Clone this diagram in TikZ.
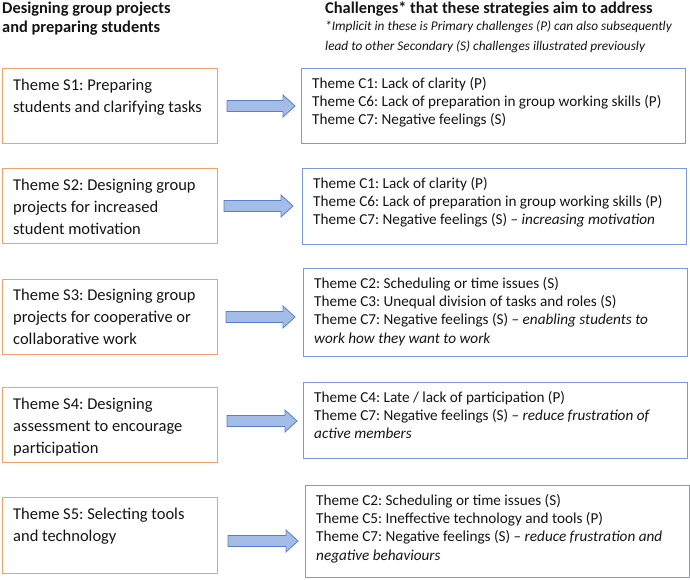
\documentclass[tikz,border=0pt]{standalone}
\usepackage{fontspec}
\setmainfont{Carlito}
\usetikzlibrary{calc}
\definecolor{obord}{RGB}{242,162,104}
\definecolor{bbord}{RGB}{122,155,216}
\definecolor{afill}{RGB}{164,189,232}
\definecolor{aline}{RGB}{91,127,199}
\definecolor{txt}{RGB}{20,20,20}
\tikzset{
  lbox/.style={draw=obord, line width=1.1pt, minimum width=215pt, minimum height=75pt, anchor=north west, inner sep=0pt},
  rbox/.style={draw=bbord, line width=1.1pt, minimum width=384pt, anchor=north west, inner sep=0pt},
  ltxt/.style={anchor=north west, inner sep=0pt, align=left, text=txt, font=\fontsize{16.5}{21.7}\selectfont},
  rtxt/.style={anchor=north west, inner sep=0pt, align=left, text=txt, font=\fontsize{15.2}{18.3}\selectfont},
  head/.style={anchor=north west, inner sep=0pt, align=left, text=txt, font=\bfseries\fontsize{16.4}{19}\selectfont},
  note/.style={anchor=north west, inner sep=0pt, align=left, text=txt, font=\itshape\fontsize{13.3}{20}\selectfont},
  blockarrow/.style={fill=afill, draw=aline, line width=0.8pt, line join=miter}
}
\newcommand\blkarrow[2]{\filldraw[blockarrow] ($(#1)+(0,-5.5)$) -- ($(#2)+(-12,-5.5)$) -- ($(#2)+(-12,-11)$) -- (#2) -- ($(#2)+(-12,11)$) -- ($(#2)+(-12,5.5)$) -- ($(#1)+(0,5.5)$) -- cycle;}
\begin{document}
\frenchspacing
\begin{tikzpicture}[x=1pt,y=-1pt]
\useasboundingbox (0,0) rectangle (690,579);
% headings
\node[head] (hl) at (2,2) {Designing group projects\\and preparing students};
\node[head] (hr) at (325,2) {Challenges* that these strategies aim to address};
\node[note] (hn) at (325,21) {*Implicit in these is Primary challenges (P) can also subsequently\\lead to other Secondary (S) challenges illustrated previously};
% left boxes
\node[lbox] (s1) at (2,68) {};
\node[lbox] (s2) at (2,168) {};
\node[lbox] (s3) at (2,279) {};
\node[lbox] (s4) at (2,387) {};
\node[lbox, minimum height=76pt] (s5) at (2,497) {};
\node[ltxt] (s1t) at ($(s1.north west)+(11,11)$) {Theme S1: Preparing\\students and clarifying tasks};
\node[ltxt] (s2t) at ($(s2.north west)+(11,11)$) {Theme S2: Designing group\\projects for increased\\student motivation};
\node[ltxt] (s3t) at ($(s3.north west)+(11,10)$) {Theme S3: Designing group\\projects for cooperative or\\collaborative work};
\node[ltxt] (s4t) at ($(s4.north west)+(11,11)$) {Theme S4: Designing\\assessment to encourage\\participation};
\node[ltxt] (s5t) at ($(s5.north west)+(11,11)$) {Theme S5: Selecting tools\\and technology};
% right boxes
\node[rbox, minimum height=75pt] (c1) at (301,68) {};
\node[rbox, minimum height=76pt] (c2) at (302,168) {};
\node[rbox, minimum height=88pt] (c3) at (303,268) {};
\node[rbox, minimum height=76pt] (c4) at (303,382) {};
\node[rbox, minimum height=92pt] (c5) at (305,485) {};
\node[rtxt] (c1t) at ($(c1.north west)+(11,9)$) {Theme C1: Lack of clarity (P)\\Theme C6: Lack of preparation in group working skills (P)\\Theme C7: Negative feelings (S)};
\node[rtxt] (c2t) at ($(c2.north west)+(11,9)$) {Theme C1: Lack of clarity (P)\\Theme C6: Lack of preparation in group working skills (P)\\Theme C7: Negative feelings (S) -- \textit{increasing motivation}};
\node[rtxt] (c3t) at ($(c3.north west)+(11,9)$) {Theme C2: Scheduling or time issues (S)\\Theme C3: Unequal division of tasks and roles (S)\\Theme C7: Negative feelings (S) -- \textit{enabling students to}\\\textit{work how they want to work}};
\node[rtxt] (c4t) at ($(c4.north west)+(11,9)$) {Theme C4: Late / lack of participation (P)\\Theme C7: Negative feelings (S) -- \textit{reduce frustration of}\\\textit{active members}};
\node[rtxt] (c5t) at ($(c5.north west)+(11,9)$) {Theme C2: Scheduling or time issues (S)\\Theme C5: Ineffective technology and tools (P)\\Theme C7: Negative feelings (S) -- \textit{reduce frustration and}\\\textit{negative behaviours}};
% arrows
\coordinate (a1s) at (227,106); \coordinate (a1e) at (295,106);
\coordinate (a2s) at (224,206); \coordinate (a2e) at (293,206);
\coordinate (a3s) at (226,317); \coordinate (a3e) at (295,317);
\coordinate (a4s) at (227,421); \coordinate (a4e) at (297,421);
\coordinate (a5s) at (228,541); \coordinate (a5e) at (298,541);
\blkarrow{a1s}{a1e}
\blkarrow{a2s}{a2e}
\blkarrow{a3s}{a3e}
\blkarrow{a4s}{a4e}
\blkarrow{a5s}{a5e}
\end{tikzpicture}
\end{document}
